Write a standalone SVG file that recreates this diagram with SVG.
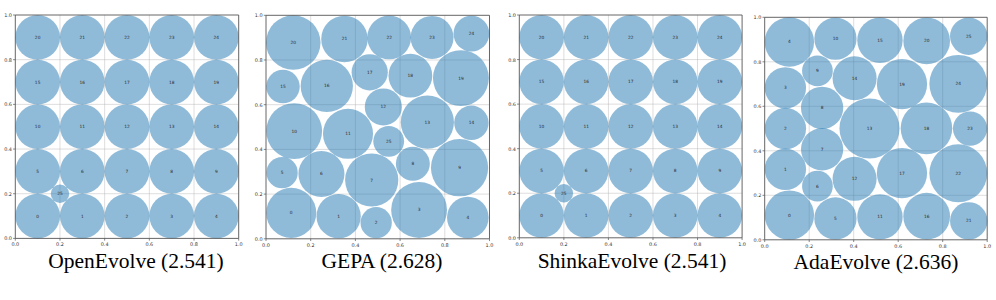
<svg xmlns="http://www.w3.org/2000/svg" width="996" height="300" viewBox="0 0 996 300">
<style>
.bg{fill:#ffffff}
.c{fill:#1f77b4;fill-opacity:0.5}
.grid line{stroke:#b0b0b0;stroke-opacity:0.55;stroke-width:0.8;vector-effect:non-scaling-stroke}
.frame{fill:none;stroke:#555555;stroke-width:0.9;vector-effect:non-scaling-stroke}
.ticks line{stroke:#555555;stroke-width:0.7;vector-effect:non-scaling-stroke}
.n{font-family:"DejaVu Sans",sans-serif;font-size:1.95px;fill:#2a2a2a;text-anchor:middle;dominant-baseline:central}
.ty{font-family:"DejaVu Sans",sans-serif;font-size:2.2px;fill:#333333;text-anchor:end;dominant-baseline:central}
.tx{font-family:"DejaVu Sans",sans-serif;font-size:2.2px;fill:#333333;text-anchor:middle;dominant-baseline:central}
.title{font-family:"Liberation Serif","Times New Roman",serif;font-size:21.5px;fill:#000000;text-anchor:middle}
</style>
<defs>
<g id="axes">
<g class="grid">
<line x1="20" y1="0" x2="20" y2="100"/><line x1="40" y1="0" x2="40" y2="100"/><line x1="60" y1="0" x2="60" y2="100"/><line x1="80" y1="0" x2="80" y2="100"/>
<line x1="0" y1="20" x2="100" y2="20"/><line x1="0" y1="40" x2="100" y2="40"/><line x1="0" y1="60" x2="100" y2="60"/><line x1="0" y1="80" x2="100" y2="80"/>
</g>
</g>
<g id="ticks">
<rect class="frame" x="0" y="0" width="100" height="100"/>
<g class="ticks">
<line x1="0" y1="100" x2="0" y2="101"/><line x1="20" y1="100" x2="20" y2="101"/><line x1="40" y1="100" x2="40" y2="101"/><line x1="60" y1="100" x2="60" y2="101"/><line x1="80" y1="100" x2="80" y2="101"/><line x1="100" y1="100" x2="100" y2="101"/>
<line x1="0" y1="0" x2="-1" y2="0"/><line x1="0" y1="20" x2="-1" y2="20"/><line x1="0" y1="40" x2="-1" y2="40"/><line x1="0" y1="60" x2="-1" y2="60"/><line x1="0" y1="80" x2="-1" y2="80"/><line x1="0" y1="100" x2="-1" y2="100"/>
</g>
<text class="ty" x="-1.5" y="0">1.0</text><text class="ty" x="-1.5" y="20">0.8</text><text class="ty" x="-1.5" y="40">0.6</text><text class="ty" x="-1.5" y="60">0.4</text><text class="ty" x="-1.5" y="80">0.2</text><text class="ty" x="-1.5" y="100">0.0</text>
<text class="tx" x="0" y="102.6">0.0</text><text class="tx" x="20" y="102.6">0.2</text><text class="tx" x="40" y="102.6">0.4</text><text class="tx" x="60" y="102.6">0.6</text><text class="tx" x="80" y="102.6">0.8</text><text class="tx" x="100" y="102.6">1.0</text>
</g>
</defs>
<rect class="bg" x="0" y="0" width="996" height="300"/>

<g id="panel-openevolve" transform="translate(15.3,15) scale(2.234)">
<use href="#axes"/>
<g id="oe-0"><circle class="c" cx="10" cy="90" r="10"/><text class="n" x="10" y="90">0</text></g>
<g id="oe-1"><circle class="c" cx="30" cy="90" r="10"/><text class="n" x="30" y="90">1</text></g>
<g id="oe-2"><circle class="c" cx="50" cy="90" r="10"/><text class="n" x="50" y="90">2</text></g>
<g id="oe-3"><circle class="c" cx="70" cy="90" r="10"/><text class="n" x="70" y="90">3</text></g>
<g id="oe-4"><circle class="c" cx="90" cy="90" r="10"/><text class="n" x="90" y="90">4</text></g>
<g id="oe-5"><circle class="c" cx="10" cy="70" r="10"/><text class="n" x="10" y="70">5</text></g>
<g id="oe-6"><circle class="c" cx="30" cy="70" r="10"/><text class="n" x="30" y="70">6</text></g>
<g id="oe-7"><circle class="c" cx="50" cy="70" r="10"/><text class="n" x="50" y="70">7</text></g>
<g id="oe-8"><circle class="c" cx="70" cy="70" r="10"/><text class="n" x="70" y="70">8</text></g>
<g id="oe-9"><circle class="c" cx="90" cy="70" r="10"/><text class="n" x="90" y="70">9</text></g>
<g id="oe-10"><circle class="c" cx="10" cy="50" r="10"/><text class="n" x="10" y="50">10</text></g>
<g id="oe-11"><circle class="c" cx="30" cy="50" r="10"/><text class="n" x="30" y="50">11</text></g>
<g id="oe-12"><circle class="c" cx="50" cy="50" r="10"/><text class="n" x="50" y="50">12</text></g>
<g id="oe-13"><circle class="c" cx="70" cy="50" r="10"/><text class="n" x="70" y="50">13</text></g>
<g id="oe-14"><circle class="c" cx="90" cy="50" r="10"/><text class="n" x="90" y="50">14</text></g>
<g id="oe-15"><circle class="c" cx="10" cy="30" r="10"/><text class="n" x="10" y="30">15</text></g>
<g id="oe-16"><circle class="c" cx="30" cy="30" r="10"/><text class="n" x="30" y="30">16</text></g>
<g id="oe-17"><circle class="c" cx="50" cy="30" r="10"/><text class="n" x="50" y="30">17</text></g>
<g id="oe-18"><circle class="c" cx="70" cy="30" r="10"/><text class="n" x="70" y="30">18</text></g>
<g id="oe-19"><circle class="c" cx="90" cy="30" r="10"/><text class="n" x="90" y="30">19</text></g>
<g id="oe-20"><circle class="c" cx="10" cy="10" r="10"/><text class="n" x="10" y="10">20</text></g>
<g id="oe-21"><circle class="c" cx="30" cy="10" r="10"/><text class="n" x="30" y="10">21</text></g>
<g id="oe-22"><circle class="c" cx="50" cy="10" r="10"/><text class="n" x="50" y="10">22</text></g>
<g id="oe-23"><circle class="c" cx="70" cy="10" r="10"/><text class="n" x="70" y="10">23</text></g>
<g id="oe-24"><circle class="c" cx="90" cy="10" r="10"/><text class="n" x="90" y="10">24</text></g>
<g id="oe-25"><circle class="c" cx="20" cy="80" r="4.14"/><text class="n" x="20" y="80">25</text></g>
<use href="#ticks"/>
</g>

<g id="panel-gepa" transform="translate(266,15.3) scale(2.235)">
<use href="#axes"/>
<g id="gepa-0"><circle class="c" cx="11.3" cy="88.4" r="11.2"/><text class="n" x="11.3" y="88.4">0</text></g>
<g id="gepa-1"><circle class="c" cx="32.5" cy="89.9" r="9.9"/><text class="n" x="32.5" y="89.9">1</text></g>
<g id="gepa-2"><circle class="c" cx="49.3" cy="92.8" r="7.0"/><text class="n" x="49.3" y="92.8">2</text></g>
<g id="gepa-3"><circle class="c" cx="68.5" cy="87.1" r="12.5"/><text class="n" x="68.5" y="87.1">3</text></g>
<g id="gepa-4"><circle class="c" cx="90.3" cy="90.5" r="9.3"/><text class="n" x="90.3" y="90.5">4</text></g>
<g id="gepa-5"><circle class="c" cx="7.2" cy="70.4" r="7.0"/><text class="n" x="7.2" y="70.4">5</text></g>
<g id="gepa-6"><circle class="c" cx="24.8" cy="71.0" r="10.3"/><text class="n" x="24.8" y="71.0">6</text></g>
<g id="gepa-7"><circle class="c" cx="47.3" cy="73.7" r="11.9"/><text class="n" x="47.3" y="73.7">7</text></g>
<g id="gepa-8"><circle class="c" cx="65.7" cy="66.4" r="7.6"/><text class="n" x="65.7" y="66.4">8</text></g>
<g id="gepa-9"><circle class="c" cx="86.6" cy="68.2" r="12.8"/><text class="n" x="86.6" y="68.2">9</text></g>
<g id="gepa-10"><circle class="c" cx="12.6" cy="51.8" r="12.5"/><text class="n" x="12.6" y="51.8">10</text></g>
<g id="gepa-11"><circle class="c" cx="36.7" cy="53.0" r="11.2"/><text class="n" x="36.7" y="53.0">11</text></g>
<g id="gepa-12"><circle class="c" cx="52.5" cy="41.0" r="8.3"/><text class="n" x="52.5" y="41.0">12</text></g>
<g id="gepa-13"><circle class="c" cx="72.2" cy="47.8" r="11.9"/><text class="n" x="72.2" y="47.8">13</text></g>
<g id="gepa-14"><circle class="c" cx="91.9" cy="48.1" r="7.7"/><text class="n" x="91.9" y="48.1">14</text></g>
<g id="gepa-15"><circle class="c" cx="7.6" cy="31.9" r="7.5"/><text class="n" x="7.6" y="31.9">15</text></g>
<g id="gepa-16"><circle class="c" cx="27.2" cy="31.6" r="11.7"/><text class="n" x="27.2" y="31.6">16</text></g>
<g id="gepa-17"><circle class="c" cx="46.4" cy="25.5" r="8.1"/><text class="n" x="46.4" y="25.5">17</text></g>
<g id="gepa-18"><circle class="c" cx="64.6" cy="27.0" r="9.8"/><text class="n" x="64.6" y="27.0">18</text></g>
<g id="gepa-19"><circle class="c" cx="87.2" cy="28.1" r="12.5"/><text class="n" x="87.2" y="28.1">19</text></g>
<g id="gepa-20"><circle class="c" cx="12.2" cy="12.2" r="12.2"/><text class="n" x="12.2" y="12.2">20</text></g>
<g id="gepa-21"><circle class="c" cx="35.1" cy="10.6" r="10.4"/><text class="n" x="35.1" y="10.6">21</text></g>
<g id="gepa-22"><circle class="c" cx="55.1" cy="9.9" r="9.8"/><text class="n" x="55.1" y="9.9">22</text></g>
<g id="gepa-23"><circle class="c" cx="74.3" cy="9.9" r="9.6"/><text class="n" x="74.3" y="9.9">23</text></g>
<g id="gepa-24"><circle class="c" cx="91.9" cy="8.2" r="8.0"/><text class="n" x="91.9" y="8.2">24</text></g>
<g id="gepa-25"><circle class="c" cx="54.9" cy="56.4" r="6.9"/><text class="n" x="54.9" y="56.4">25</text></g>
<use href="#ticks"/>
</g>

<g id="panel-shinkaevolve" transform="translate(519.3,15) scale(2.228)">
<use href="#axes"/>
<g id="se-0"><circle class="c" cx="10" cy="90" r="10"/><text class="n" x="10" y="90">0</text></g>
<g id="se-1"><circle class="c" cx="30" cy="90" r="10"/><text class="n" x="30" y="90">1</text></g>
<g id="se-2"><circle class="c" cx="50" cy="90" r="10"/><text class="n" x="50" y="90">2</text></g>
<g id="se-3"><circle class="c" cx="70" cy="90" r="10"/><text class="n" x="70" y="90">3</text></g>
<g id="se-4"><circle class="c" cx="90" cy="90" r="10"/><text class="n" x="90" y="90">4</text></g>
<g id="se-5"><circle class="c" cx="10" cy="70" r="10"/><text class="n" x="10" y="70">5</text></g>
<g id="se-6"><circle class="c" cx="30" cy="70" r="10"/><text class="n" x="30" y="70">6</text></g>
<g id="se-7"><circle class="c" cx="50" cy="70" r="10"/><text class="n" x="50" y="70">7</text></g>
<g id="se-8"><circle class="c" cx="70" cy="70" r="10"/><text class="n" x="70" y="70">8</text></g>
<g id="se-9"><circle class="c" cx="90" cy="70" r="10"/><text class="n" x="90" y="70">9</text></g>
<g id="se-10"><circle class="c" cx="10" cy="50" r="10"/><text class="n" x="10" y="50">10</text></g>
<g id="se-11"><circle class="c" cx="30" cy="50" r="10"/><text class="n" x="30" y="50">11</text></g>
<g id="se-12"><circle class="c" cx="50" cy="50" r="10"/><text class="n" x="50" y="50">12</text></g>
<g id="se-13"><circle class="c" cx="70" cy="50" r="10"/><text class="n" x="70" y="50">13</text></g>
<g id="se-14"><circle class="c" cx="90" cy="50" r="10"/><text class="n" x="90" y="50">14</text></g>
<g id="se-15"><circle class="c" cx="10" cy="30" r="10"/><text class="n" x="10" y="30">15</text></g>
<g id="se-16"><circle class="c" cx="30" cy="30" r="10"/><text class="n" x="30" y="30">16</text></g>
<g id="se-17"><circle class="c" cx="50" cy="30" r="10"/><text class="n" x="50" y="30">17</text></g>
<g id="se-18"><circle class="c" cx="70" cy="30" r="10"/><text class="n" x="70" y="30">18</text></g>
<g id="se-19"><circle class="c" cx="90" cy="30" r="10"/><text class="n" x="90" y="30">19</text></g>
<g id="se-20"><circle class="c" cx="10" cy="10" r="10"/><text class="n" x="10" y="10">20</text></g>
<g id="se-21"><circle class="c" cx="30" cy="10" r="10"/><text class="n" x="30" y="10">21</text></g>
<g id="se-22"><circle class="c" cx="50" cy="10" r="10"/><text class="n" x="50" y="10">22</text></g>
<g id="se-23"><circle class="c" cx="70" cy="10" r="10"/><text class="n" x="70" y="10">23</text></g>
<g id="se-24"><circle class="c" cx="90" cy="10" r="10"/><text class="n" x="90" y="10">24</text></g>
<g id="se-25"><circle class="c" cx="20" cy="80" r="4.14"/><text class="n" x="20" y="80">25</text></g>
<use href="#ticks"/>
</g>

<g id="panel-adaevolve" transform="translate(764.7,17.3) scale(2.225)">
<use href="#axes"/>
<g id="ae-0"><circle class="c" cx="11.1" cy="88.9" r="11.1"/><text class="n" x="11.1" y="88.9">0</text></g>
<g id="ae-1"><circle class="c" cx="9.3" cy="68.3" r="9.3"/><text class="n" x="9.3" y="68.3">1</text></g>
<g id="ae-2"><circle class="c" cx="9.3" cy="50.0" r="9.3"/><text class="n" x="9.3" y="50.0">2</text></g>
<g id="ae-3"><circle class="c" cx="9.3" cy="31.7" r="9.3"/><text class="n" x="9.3" y="31.7">3</text></g>
<g id="ae-4"><circle class="c" cx="11.1" cy="11.1" r="11.1"/><text class="n" x="11.1" y="11.1">4</text></g>
<g id="ae-5"><circle class="c" cx="31.8" cy="90.4" r="9.5"/><text class="n" x="31.8" y="90.4">5</text></g>
<g id="ae-6"><circle class="c" cx="23.7" cy="75.9" r="6.9"/><text class="n" x="23.7" y="75.9">6</text></g>
<g id="ae-7"><circle class="c" cx="25.8" cy="59.3" r="9.5"/><text class="n" x="25.8" y="59.3">7</text></g>
<g id="ae-8"><circle class="c" cx="25.8" cy="40.7" r="9.5"/><text class="n" x="25.8" y="40.7">8</text></g>
<g id="ae-9"><circle class="c" cx="23.7" cy="24.1" r="6.9"/><text class="n" x="23.7" y="24.1">9</text></g>
<g id="ae-10"><circle class="c" cx="31.8" cy="9.6" r="9.5"/><text class="n" x="31.8" y="9.6">10</text></g>
<g id="ae-11"><circle class="c" cx="51.8" cy="89.7" r="10.2"/><text class="n" x="51.8" y="89.7">11</text></g>
<g id="ae-12"><circle class="c" cx="40.4" cy="72.6" r="9.9"/><text class="n" x="40.4" y="72.6">12</text></g>
<g id="ae-13"><circle class="c" cx="47.1" cy="50.0" r="13.5"/><text class="n" x="47.1" y="50.0">13</text></g>
<g id="ae-14"><circle class="c" cx="40.4" cy="27.4" r="9.9"/><text class="n" x="40.4" y="27.4">14</text></g>
<g id="ae-15"><circle class="c" cx="51.8" cy="10.3" r="10.2"/><text class="n" x="51.8" y="10.3">15</text></g>
<g id="ae-16"><circle class="c" cx="72.8" cy="89.4" r="10.5"/><text class="n" x="72.8" y="89.4">16</text></g>
<g id="ae-17"><circle class="c" cx="61.7" cy="70.0" r="11.3"/><text class="n" x="61.7" y="70.0">17</text></g>
<g id="ae-18"><circle class="c" cx="72.7" cy="49.9" r="11.6"/><text class="n" x="72.7" y="49.9">18</text></g>
<g id="ae-19"><circle class="c" cx="61.7" cy="30.0" r="11.3"/><text class="n" x="61.7" y="30.0">19</text></g>
<g id="ae-20"><circle class="c" cx="72.8" cy="10.6" r="10.5"/><text class="n" x="72.8" y="10.6">20</text></g>
<g id="ae-21"><circle class="c" cx="91.7" cy="91.5" r="8.4"/><text class="n" x="91.7" y="91.5">21</text></g>
<g id="ae-22"><circle class="c" cx="87.0" cy="70.1" r="13.0"/><text class="n" x="87.0" y="70.1">22</text></g>
<g id="ae-23"><circle class="c" cx="92.3" cy="50.0" r="7.7"/><text class="n" x="92.3" y="50.0">23</text></g>
<g id="ae-24"><circle class="c" cx="87.0" cy="29.9" r="13.0"/><text class="n" x="87.0" y="29.9">24</text></g>
<g id="ae-25"><circle class="c" cx="91.7" cy="8.5" r="8.4"/><text class="n" x="91.7" y="8.5">25</text></g>
<use href="#ticks"/>
</g>

<g id="connectors"></g>

<g id="titles">
<text class="title" x="136" y="267.5">OpenEvolve (2.541)</text>
<text class="title" x="382" y="268">GEPA (2.628)</text>
<text class="title" x="632" y="267.7">ShinkaEvolve (2.541)</text>
<text class="title" x="876" y="269">AdaEvolve (2.636)</text>
</g>
</svg>
